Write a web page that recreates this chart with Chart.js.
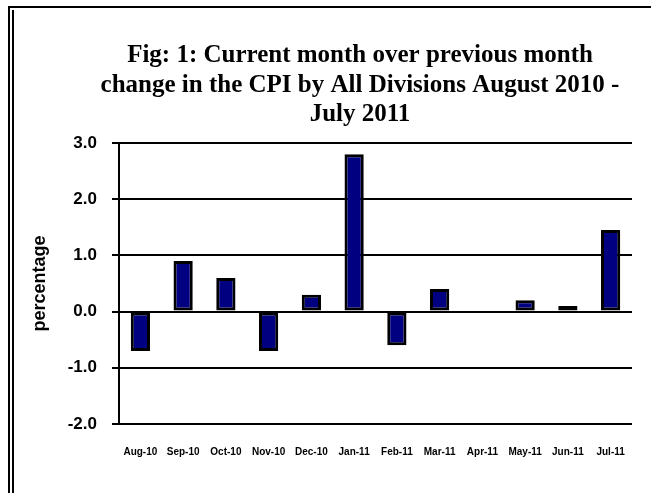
<!DOCTYPE html>
<html>
<head>
<meta charset="utf-8">
<script src="https://cdn.jsdelivr.net/npm/chart.js@4/dist/chart.umd.min.js"></script>
<style>
  html, body { margin: 0; padding: 0; background: #fff; }
  #wrap { position: relative; width: 651px; height: 493px; overflow: hidden; }
  #frameOuter { position: absolute; left: 8px; top: 6px; right: 0; bottom: 0; border-top: 2px solid #000; border-left: 2px solid #000; }
  #frameInner { position: absolute; left: 12px; top: 10px; bottom: 0; border-left: 2px solid #000; }
  canvas { position: absolute; left: 0; top: 0; }
</style>
</head>
<body>
<div id="wrap">
  <div id="frameOuter"></div>
  <div id="frameInner"></div>
  <canvas id="chart" width="651" height="493"></canvas>
</div>
<script>
// Month over month CPI change, Aug 2010 - Jul 2011
const months = ['Aug-10', 'Sep-10', 'Oct-10', 'Nov-10', 'Dec-10', 'Jan-11',
  'Feb-11', 'Mar-11', 'Apr-11', 'May-11', 'Jun-11', 'Jul-11'];
const changes = [-0.7, 0.9, 0.6, -0.7, 0.3, 2.8, -0.6, 0.4, 0.0, 0.2, 0.1, 1.45];
const titleLines = ['Fig: 1: Current month over previous month',
  'change in the CPI by All Divisions August 2010 -',
  'July 2011'];

// title drawn at a fixed centre, like the original figure
const titlePlugin = {
  id: 'figTitle',
  afterDraw(chart) {
    const ctx = chart.ctx;
    ctx.save();
    ctx.fillStyle = '#000';
    ctx.font = 'bold 25px "Liberation Serif", "Times New Roman", serif';
    ctx.textAlign = 'center';
    ctx.textBaseline = 'alphabetic';
    const ys = [62, 92, 121];
    titleLines.forEach((line, i) => ctx.fillText(line, 360, ys[i]));
    ctx.restore();
  }
};

new Chart(document.getElementById('chart'), {
  type: 'bar',
  data: {
    labels: months,
    datasets: [{
      data: changes,
      backgroundColor: '#000080',
      borderColor: '#000',
      borderWidth: 3,
      borderSkipped: false,
      barPercentage: 0.45,
      categoryPercentage: 1
    }]
  },
  options: {
    responsive: false,
    animation: false,
    layout: { padding: { left: 0, top: 143, right: 19, bottom: 0 } },
    plugins: {
      legend: { display: false },
      tooltip: { enabled: false }
    },
    scales: {
      x: {
        grid: { display: false },
        border: { display: false },
        ticks: {
          color: '#000',
          autoSkip: false,
          maxRotation: 0,
          padding: 14,
          font: { family: 'Arial, "Liberation Sans", sans-serif', size: 10, weight: 'bold' }
        },
        afterFit(scale) { scale.height = 493 - 424; }
      },
      y: {
        min: -2,
        max: 3,
        ticks: {
          stepSize: 1,
          color: '#000',
          padding: 15,
          font: { family: 'Arial, "Liberation Sans", sans-serif', size: 17, weight: 'bold' },
          callback: v => v.toFixed(1)
        },
        grid: { color: '#000', lineWidth: 2, tickLength: 7 },
        border: { display: true, color: '#000', width: 2 },
        title: {
          display: true,
          text: 'percentage',
          color: '#000',
          padding: { top: 29, bottom: 0 },
          font: { family: 'Arial, "Liberation Sans", sans-serif', size: 18, weight: 'bold' }
        },
        afterFit(scale) { scale.width = 119; }
      }
    }
  },
  plugins: [titlePlugin]
});
</script>
</body>
</html>
